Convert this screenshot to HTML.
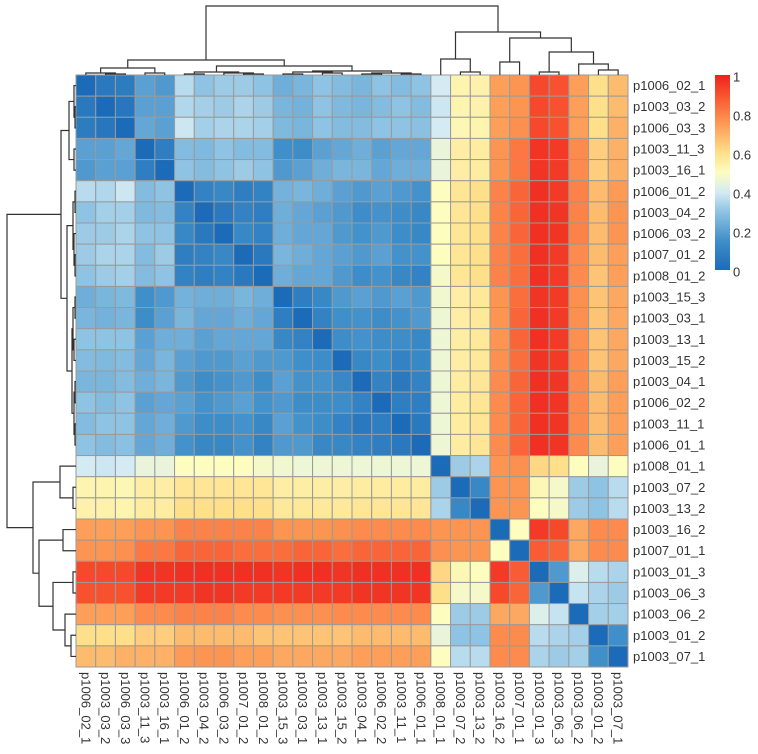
<!DOCTYPE html>
<html><head><meta charset="utf-8"><style>
html,body{margin:0;padding:0;background:#fff;}
svg{display:block;font-family:"Liberation Sans",Arial,sans-serif;}
</style></head><body>
<svg id="chart" width="758" height="754" viewBox="0 0 758 754"></svg>
<script>
var hmLabels=["p1006_02_1","p1003_03_2","p1006_03_3","p1003_11_3","p1003_16_1","p1006_01_2","p1003_04_2","p1006_03_2","p1007_01_2","p1008_01_2","p1003_15_3","p1003_03_1","p1003_13_1","p1003_15_2","p1003_04_1","p1006_02_2","p1003_11_1","p1006_01_1","p1008_01_1","p1003_07_2","p1003_13_2","p1003_16_2","p1007_01_1","p1003_01_3","p1003_06_3","p1003_06_2","p1003_01_2","p1003_07_1"];
var hmLegendTicks=[0,0.2,0.4,0.6,0.8,1];
var hmMatrix=[
[0,.06,.07,.2,.18,.36,.3,.32,.32,.3,.24,.26,.3,.28,.26,.3,.28,.3,.4,.53,.54,.74,.76,.92,.9,.74,.6,.68],
[.06,0,.05,.2,.2,.35,.33,.32,.34,.32,.26,.25,.3,.27,.26,.28,.3,.28,.39,.53,.54,.74,.76,.92,.9,.74,.6,.68],
[.07,.05,0,.22,.2,.39,.33,.34,.34,.33,.27,.26,.3,.28,.28,.3,.3,.29,.4,.52,.53,.74,.77,.92,.9,.74,.6,.7],
[.2,.2,.22,0,.08,.28,.27,.3,.28,.28,.15,.14,.2,.22,.24,.2,.22,.22,.45,.55,.56,.76,.82,.96,.95,.78,.64,.7],
[.18,.2,.2,.08,0,.3,.28,.3,.32,.3,.18,.2,.24,.26,.26,.22,.24,.24,.45,.55,.56,.76,.82,.96,.95,.78,.64,.7],
[.36,.35,.39,.28,.3,0,.1,.12,.08,.1,.25,.26,.24,.2,.18,.2,.18,.16,.5,.58,.6,.8,.86,.97,.95,.8,.68,.75],
[.3,.33,.33,.27,.28,.1,0,.06,.1,.08,.24,.22,.2,.18,.14,.16,.14,.12,.5,.58,.6,.8,.86,.97,.96,.8,.68,.76],
[.32,.32,.34,.3,.3,.12,.06,0,.12,.1,.24,.22,.22,.18,.16,.18,.14,.12,.5,.58,.6,.8,.86,.97,.96,.8,.68,.76],
[.32,.34,.34,.28,.32,.08,.1,.12,0,.06,.26,.24,.22,.2,.18,.2,.16,.16,.5,.58,.6,.8,.84,.97,.95,.78,.68,.74],
[.3,.32,.33,.28,.3,.1,.08,.1,.06,0,.24,.22,.22,.18,.14,.16,.12,.1,.48,.58,.6,.8,.84,.97,.95,.78,.66,.74],
[.24,.26,.27,.15,.18,.25,.24,.24,.26,.24,0,.08,.12,.18,.2,.18,.2,.18,.47,.55,.57,.76,.84,.96,.95,.77,.66,.72],
[.26,.25,.26,.14,.2,.26,.22,.22,.24,.22,.08,0,.1,.15,.16,.14,.16,.18,.46,.55,.57,.76,.86,.97,.95,.77,.66,.72],
[.3,.3,.3,.2,.24,.24,.2,.22,.22,.22,.12,.1,0,.14,.16,.14,.14,.12,.46,.55,.57,.76,.86,.97,.95,.77,.66,.72],
[.28,.27,.28,.22,.26,.2,.18,.18,.2,.18,.18,.15,.14,0,.12,.14,.1,.12,.46,.55,.57,.77,.84,.96,.95,.78,.66,.72],
[.26,.26,.28,.24,.26,.18,.14,.16,.18,.14,.2,.16,.16,.12,0,.1,.06,.1,.46,.56,.58,.78,.86,.97,.96,.78,.68,.74],
[.3,.28,.3,.2,.22,.2,.16,.18,.2,.16,.18,.14,.14,.14,.1,0,.08,.08,.46,.56,.58,.78,.86,.97,.96,.78,.68,.74],
[.28,.3,.3,.22,.24,.18,.14,.14,.16,.12,.2,.16,.14,.1,.06,.08,0,.06,.46,.56,.58,.78,.86,.97,.96,.78,.68,.74],
[.3,.28,.29,.22,.24,.16,.12,.12,.16,.1,.18,.18,.12,.12,.1,.08,.06,0,.46,.56,.58,.78,.86,.97,.96,.78,.68,.74],
[.4,.39,.4,.45,.45,.5,.5,.5,.5,.48,.47,.46,.46,.46,.46,.46,.46,.46,0,.32,.34,.76,.77,.62,.6,.5,.45,.5],
[.53,.53,.52,.55,.55,.58,.58,.58,.58,.58,.55,.55,.55,.55,.56,.56,.56,.56,.32,0,.12,.76,.76,.52,.48,.32,.3,.36],
[.54,.54,.53,.56,.56,.6,.6,.6,.6,.6,.57,.57,.57,.57,.58,.58,.58,.58,.34,.12,0,.76,.76,.5,.48,.32,.3,.36],
[.74,.74,.74,.76,.76,.8,.8,.8,.8,.8,.76,.76,.76,.77,.78,.78,.78,.78,.76,.76,.76,0,.5,.95,.92,.72,.78,.78],
[.76,.76,.77,.82,.82,.86,.86,.86,.84,.84,.84,.86,.86,.84,.86,.86,.86,.86,.77,.76,.76,.5,0,.88,.86,.72,.78,.78],
[.92,.92,.92,.96,.96,.97,.97,.97,.97,.97,.96,.97,.97,.96,.97,.97,.97,.97,.62,.52,.5,.95,.88,0,.18,.42,.36,.34],
[.9,.9,.9,.95,.95,.95,.96,.96,.95,.95,.95,.95,.95,.95,.96,.96,.96,.96,.6,.48,.48,.92,.86,.18,0,.38,.34,.32],
[.74,.74,.74,.78,.78,.8,.8,.8,.78,.78,.77,.77,.77,.78,.78,.78,.78,.78,.5,.32,.32,.72,.72,.42,.38,0,.33,.33],
[.6,.6,.6,.64,.64,.68,.68,.68,.68,.66,.66,.66,.66,.66,.68,.68,.68,.68,.45,.3,.3,.78,.78,.36,.34,.33,0,.15],
[.68,.68,.7,.7,.7,.75,.76,.76,.74,.74,.72,.72,.72,.72,.74,.74,.74,.74,.5,.36,.36,.78,.78,.34,.32,.33,.15,0]
];
var hmTree=[[[[0,[1,2,1],2],[3,4,2],7],[[[5,6,1],[7,[8,9,1],2],3],[[[10,11,1],[12,13,2],3],[[14,15,1],[16,17,1],2],4],9],15],[[18,[19,20,3],16],[[21,22,13],[[23,24,3],[25,[26,27,5],11],23],37],43],69];

(function(){
var NSX="http://www.w3.org/2000/svg";
var root=document.getElementById('chart');
var X0=76,X1=628,Y0=75,Y1=667,N=hmLabels.length;
var CW=(X1-X0)/N,CH=(Y1-Y0)/N;
function xs(i){return X0+i*CW;}
function ys(i){return Y0+i*CH;}
var stops=[[0,[28,107,184]],[0.15,[63,143,202]],[0.3,[143,195,227]],[0.4,[212,235,244]],[0.5,[253,253,192]],[0.6,[254,224,139]],[0.75,[253,154,85]],[0.9,[248,81,47]],[1,[236,34,28]]];
function color(v){v=Math.max(0,Math.min(1,v));for(var k=1;k<stops.length;k++){if(v<=stops[k][0]){var a=stops[k-1],b=stops[k],t=(v-a[0])/(b[0]-a[0]);var c=[0,1,2].map(function(j){return Math.round(a[1][j]+(b[1][j]-a[1][j])*t);});return 'rgb('+c.join(',')+')';}}return 'rgb(236,34,28)';}
function mk(tag,attrs,parent){var e=document.createElementNS(NSX,tag);for(var k in attrs)e.setAttribute(k,attrs[k]);(parent||root).appendChild(e);return e;}

var cells=mk('g',{});


for(var r=0;r<N;r++)for(var c=0;c<N;c++){
  var rc=mk('rect',{x:xs(c),y:ys(r),width:CW,height:CH,fill:color(hmMatrix[r][c]),stroke:'#9a9a9a','stroke-width':1},cells);
  
  
}
var rowG=mk('g',{});


var colG=mk('g',{});


hmLabels.forEach(function(l,i){
  var t=mk('text',{x:633,y:ys(i)+CH/2+4.5,'font-size':13,fill:'#333'},rowG);t.textContent=l;
  
  
  var cx=xs(i)+CW/2-4.5;
  var t2=mk('text',{x:cx,y:672,'font-size':13,fill:'#333',transform:'rotate(90 '+cx+' 672)'},colG);t2.textContent=l;
  
  
});
var HS=(75-6)/69;
function layout(node){if(typeof node==='number')return{pos:node+0.5,h:0};var a=layout(node[0]),b=layout(node[1]);return{pos:(a.pos+b.pos)/2,h:node[2],a:a,b:b};}
function drawTree(nd,g,vert){if(!nd.a)return;drawTree(nd.a,g,vert);drawTree(nd.b,g,vert);
  var d;
  if(vert){var xa=X0+nd.a.pos*CW,xb=X0+nd.b.pos*CW,y=Y0-nd.h*HS,ya=Y0-nd.a.h*HS,yb=Y0-nd.b.h*HS;d='M'+xa+','+ya+'V'+y+'H'+xb+'V'+yb;}
  else{var ya2=Y0+nd.a.pos*CH,yb2=Y0+nd.b.pos*CH,x=X0-nd.h*HS,xa2=X0-nd.a.h*HS,xb2=X0-nd.b.h*HS;d='M'+xa2+','+ya2+'H'+x+'V'+yb2+'H'+xb2;}
  mk('path',{d:d,fill:'none',stroke:'#333','stroke-width':1.2},g);}
var L=layout(hmTree);
var dt=mk('g',{});


drawTree(L,dt,true);
var dl=mk('g',{});


drawTree(L,dl,false);
var defs=mk('defs',{});var gr=mk('linearGradient',{id:'legendgrad',x1:0,y1:1,x2:0,y2:0},defs);
for(var k=0;k<=20;k++)mk('stop',{offset:k/20,'stop-color':color(k/20)},gr);
var lg=mk('g',{});


var LT=75,LB=270;
var bar=mk('rect',{x:715,y:LT,width:15,height:LB-LT,fill:'url(#legendgrad)'},lg);


hmLegendTicks.forEach(function(v){var y=272-v*(272-77)+4.5;var t=mk('text',{x:733,y:y,'font-size':13,fill:'#333'},lg);t.textContent=String(v);
  
  });
})();
</script>
</body></html>
